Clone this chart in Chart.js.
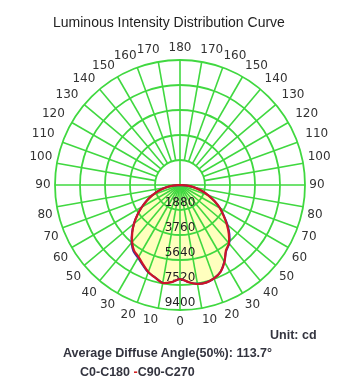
<!DOCTYPE html>
<html>
<head>
<meta charset="utf-8">
<script src="https://cdn.jsdelivr.net/npm/chart.js@4.4.1/dist/chart.umd.min.js"></script>
<style>
  body { margin: 0; background: #fff; }
  #wrap { position: relative; width: 359px; height: 389px; overflow: hidden; }
  #mycanvas { position: absolute; left: 0; top: 0; }
  .txt { position: absolute; white-space: nowrap; line-height: 1; font-family: "Liberation Sans", Arial, sans-serif; }
  .note { font-size: 12.5px; font-weight: bold; color: #33343f; }
</style>
</head>
<body>
<div id="wrap">
  <canvas id="mycanvas" width="359" height="389"></canvas>
  <div class="txt" style="left:53px; top:15px; font-size:14px; color:#222;">Luminous Intensity Distribution Curve</div>
  <div class="txt note" style="left:270px; top:329px;">Unit: cd</div>
  <div class="txt note" style="left:63px; top:347px;">Average Diffuse Angle(50%): 113.7°</div>
  <div class="txt note" style="left:80px; top:366px;">C0-C180 <span style="color:#d42020;">-</span>C90-C270</div>
</div>
<script>
// gamma angles (deg from nadir), one half-plane
var gammaSteps = [0, 5, 10, 15, 20, 25, 30, 35, 40, 45, 50, 55, 60, 65, 70, 75, 80, 85, 90,
                  95, 100, 105, 110, 115, 120, 125, 130, 135, 140, 145, 150, 155, 160, 165, 170, 175, 180];

// intensity in cd
var c0   = [7070, 7330, 7540, 7590, 7470, 7200, 6660, 6060, 5760, 5260, 4660, 4020, 3470, 2860, 2260, 1690, 1130, 560, 0,
            0, 0, 0, 0, 0, 0, 0, 0, 0, 0, 0, 0, 0, 0, 0, 0, 0, 0];
var c180 = [7070, 7330, 7470, 7200, 6990, 6640, 6320, 6100, 5660, 5110, 4520, 3910, 3310, 2740, 2180, 1650, 1090, 530, 0,
            0, 0, 0, 0, 0, 0, 0, 0, 0, 0, 0, 0, 0, 0, 0, 0, 0, 0];
var c90  = [7070, 7330, 7560, 7600, 7480, 7220, 6690, 6020, 5720, 5190, 4590, 3990, 3460, 2860, 2260, 1690, 1130, 560, 0,
            0, 0, 0, 0, 0, 0, 0, 0, 0, 0, 0, 0, 0, 0, 0, 0, 0, 0];
var c270 = [7070, 7330, 7480, 7220, 6960, 6580, 6240, 6020, 5600, 5080, 4510, 3910, 3310, 2740, 2180, 1650, 1090, 530, 0,
            0, 0, 0, 0, 0, 0, 0, 0, 0, 0, 0, 0, 0, 0, 0, 0, 0, 0];

var rings = [1880, 3760, 5640, 7520, 9400];

var gridColor = '#40d840';
var last = gammaSteps.length - 1;   // 36

// radar goes clockwise from the top: right half 180 -> 0, then left half 0 -> 180
var labels = [];
var gammaAt = [];
for (var i = 0; i < last * 2; i++) {
  var k = i <= last ? last - i : i - last;
  gammaAt.push(gammaSteps[k]);
  labels.push(String(gammaSteps[k]));
}
function plane(right, left) {
  var out = [];
  for (var i = 0; i < last * 2; i++) {
    out.push(i <= last ? right[last - i] : left[i - last]);
  }
  return out;
}
function sgn(v) { return Math.abs(v) < 1e-6 ? 0 : (v > 0 ? 1 : -1); }

var polarGrid = {
  id: 'polarGrid',
  afterDatasetDraw: function(chart, args) {
    if (args.index !== 0) return;
    var s = chart.scales.r;
    var ctx = chart.ctx;
    ctx.save();
    ctx.strokeStyle = gridColor;
    ctx.lineWidth = 1.8;
    rings.forEach(function(v) {
      ctx.beginPath();
      ctx.arc(s.xCenter, s.yCenter, s.getDistanceFromCenterForValue(v), 0, Math.PI * 2);
      ctx.stroke();
    });
    ctx.lineWidth = 1.6;
    for (var i = 0; i < labels.length; i += 2) {
      var g = gammaAt[i];
      var from = (g < 90 || g % 90 === 0) ? 0 : rings[0];
      var a = s.getPointPositionForValue(i, from);
      var b = s.getPointPositionForValue(i, rings[rings.length - 1]);
      ctx.beginPath();
      ctx.moveTo(a.x, a.y);
      ctx.lineTo(b.x, b.y);
      ctx.stroke();
    }

    ctx.font = '12px "DejaVu Sans"';
    ctx.textAlign = 'center';
    ctx.textBaseline = 'middle';
    ctx.fillStyle = '#222';
    rings.forEach(function(v) {
      ctx.fillText(String(v), s.xCenter, s.yCenter + s.getDistanceFromCenterForValue(v) - 7);
    });

    // angle labels round the outer ring
    ctx.fillStyle = '#333';
    for (var j = 0; j < labels.length; j += 2) {
      var ang = s.getIndexAngle(j);
      var sn = Math.sin(ang), cs = Math.cos(ang);
      var p = s.getPointPosition(j, s.drawingArea + 12);
      var mx = 0, dy = 0;
      if (sgn(cs) > 0) {
        mx = 8 * Math.min(1, cs * 3);
        dy = -5 * Math.pow(Math.abs(sn), 4);
      } else if (sgn(cs) < 0) {
        mx = 6 * Math.pow(Math.abs(cs), 3);
        dy = 6 * sn * sn;
      }
      ctx.fillText(labels[j], p.x + sgn(sn) * mx, p.y + dy);
    }
    ctx.restore();
  }
};

var ctx = document.getElementById('mycanvas');
var chart = new Chart(ctx, {
  type: 'radar',
  data: {
    labels: labels,
    datasets: [
      {
        label: 'fill',
        data: plane(c90, c270),
        backgroundColor: '#ffffbe',
        borderWidth: 0,
        fill: true,
        pointRadius: 0,
        tension: 0.3,
        order: 3
      },
      {
        label: 'C0-C180',
        data: plane(c0, c180),
        borderColor: '#3030a8',
        borderWidth: 2,
        fill: false,
        pointRadius: 0,
        tension: 0.3,
        order: 2
      },
      {
        label: 'C90-C270',
        data: plane(c90, c270),
        borderColor: '#cc1428',
        borderWidth: 2.2,
        fill: false,
        pointRadius: 0,
        tension: 0.3,
        order: 1
      }
    ]
  },
  options: {
    responsive: false,
    animation: false,
    layout: { padding: { left: 55, right: 54, top: 60, bottom: 79 } },
    plugins: {
      legend: { display: false },
      tooltip: { enabled: false }
    },
    scales: {
      r: {
        min: 0,
        max: 9400,
        startAngle: 0,
        ticks: { display: false, stepSize: 1880 },
        grid: { display: false },
        angleLines: { display: false },
        pointLabels: { display: false }
      }
    }
  },
  plugins: [polarGrid]
});
</script>
</body>
</html>
